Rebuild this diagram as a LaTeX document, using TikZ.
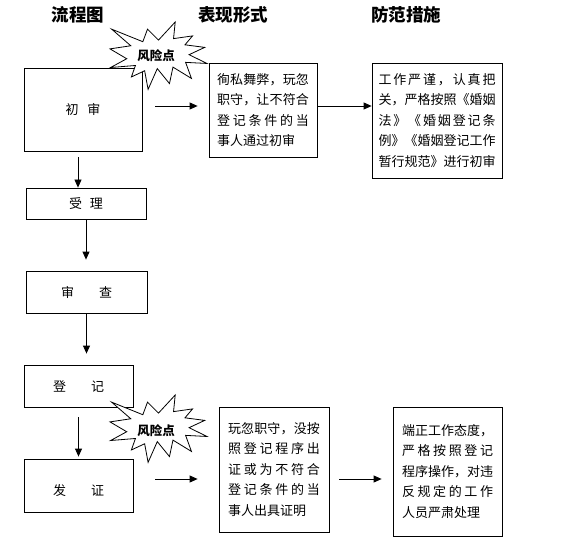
\documentclass[tikz,border=0pt]{standalone}
\usepackage{fontspec}
\setmainfont{Noto Sans CJK SC}
\usetikzlibrary{arrows.meta}
\tikzset{
  box/.style={draw,line width=0.8pt,align=center,inner sep=0pt,font=\fontsize{13}{20.5}\selectfont},
  textbox/.style={draw,line width=0.8pt,align=left,inner ysep=0pt,font=\fontsize{13}{20.5}\selectfont},
  title/.style={font=\fontsize{17.5}{20}\selectfont\bfseries},
  risk/.style={font=\fontsize{12.5}{15}\selectfont\bfseries},
  arr/.style={-{Triangle[length=8pt,width=7pt]},line width=0.8pt},
}
% one line spread over the whole text width
\makeatletter
\newcommand{\jl}[1]{\noindent\hbox to\linewidth{\jl@#1\relax}}
\def\jl@#1#2{#1\ifx#2\relax\else\hfil\expandafter\jl@\expandafter#2\fi}
\makeatother
% explosion outline, #1,#2 = top left corner
\newcommand{\explosion}[2]{%
  \filldraw[fill=white,line width=0.8pt,shift={(#1,#2)},x=0.449pt,y=-0.312pt]
    (108,58) -- (145.22,0) -- (141.55,53.25) -- (183.80,44.57) -- (167.02,73.15)
    -- (210.97,81.37) -- (176.07,104.75) -- (216,132.90) -- (168.37,129.42)
    -- (181.45,180.95) -- (140.20,144.57) -- (132.47,197.37) -- (105.32,149.35)
    -- (84.85,216) -- (77.15,156.27) -- (47.62,176.17) -- (56.67,139.37)
    -- (1.35,145.87) -- (37.22,117.75) -- (0,86.15) -- (46.27,76.17)
    -- (3.70,22.95) -- (73.12,63.20) -- (83.52,22.95) -- cycle;}
\begin{document}
\begin{tikzpicture}[x=1pt,y=-1pt]
  \useasboundingbox (0,0) rectangle (577,545);
  % column titles
  \draw
    (78,14.5) node[title] (t1){流程图}
    (233,14.5) node[title] (t2){表现形式}
    (406,14.5) node[title] (t3){防范措施};
  % flow
  \draw
    (83,109.5) node[box,minimum width=118pt,minimum height=83pt] (chushen){初\hspace{9pt}审}
    (86,203.5) node[box,minimum width=120pt,minimum height=31pt] (shouli){受\hspace{8pt}理}
    (86.5,292) node[box,minimum width=121pt,minimum height=42pt] (shencha){审\hspace{25pt}查}
    (78.5,386) node[box,minimum width=109pt,minimum height=42pt] (dengji){登\hspace{25pt}记}
    (78.5,485.5) node[box,minimum width=109pt,minimum height=53pt] (fazheng){\mbox{}\\发\hspace{25pt}证};
  % risks and measures
  \draw
    (263,110) node[textbox,text width=92pt,inner xsep=8pt,minimum height=94pt] (ra)
      {\jl{徇私舞弊，玩忽}\\\jl{职守，让不符合}\\\jl{登记条件的当}\\事人通过初审}
    (437,120.5) node[textbox,text width=117pt,inner xsep=6.5pt,minimum height=115pt] (fa)
      {\jl{工作严谨，认真把}\\\jl{关，严格按照《婚姻}\\\jl{法》《婚姻登记条}\\\jl{例》《婚姻登记工作}\\暂行规范》进行初审}
    (274,469.5) node[textbox,text width=92pt,inner xsep=9pt,minimum height=125pt] (rb)
      {\jl{玩忽职守，没按}\\\jl{照登记程序出}\\\jl{证或为不符合}\\\jl{登记条件的当}\\事人出具证明}
    (447.5,471.5) node[textbox,text width=91pt,inner xsep=9pt,minimum height=129pt] (fb)
      {\jl{端正工作态度，}\\\jl{严格按照登记}\\\jl{程序操作，对违}\\\jl{反规定的工作}\\人员严肃处理};
  \begin{scope}[arr]
    \draw ([xshift=-5pt,yshift=-6pt]chushen.south) -- ([xshift=-8pt]shouli.north);
    \draw[shorten >=11pt] (shouli.south) -- (shouli.south |- shencha.north);
    \draw[shorten >=11pt] (shencha.south) -- (shencha.south |- dengji.north);
    \draw[shorten <=10pt,shorten >=2pt] (dengji.south) -- (fazheng.north);
    \draw[shorten <=13pt,shorten >=11pt] ([yshift=3.5pt]chushen.east) -- ([yshift=4pt]ra.west);
    \draw ([yshift=4pt]ra.east) -- ([yshift=14.5pt]fa.west);
    \draw[shorten <=22pt,shorten >=21pt] ([yshift=6.5pt]fazheng.east) -- ([yshift=-9.5pt]rb.west);
    \draw[shorten <=10pt,shorten >=11pt] ([yshift=-9.5pt]rb.east) -- ([yshift=-7.5pt]fb.west);
  \end{scope}
  % risk points
  \explosion{110}{22}
  \node[risk] (risk1) at (156,55.5) {风险点};
  \explosion{110}{395}
  \node[risk] (risk2) at (156,431) {风险点};
\end{tikzpicture}
\end{document}
